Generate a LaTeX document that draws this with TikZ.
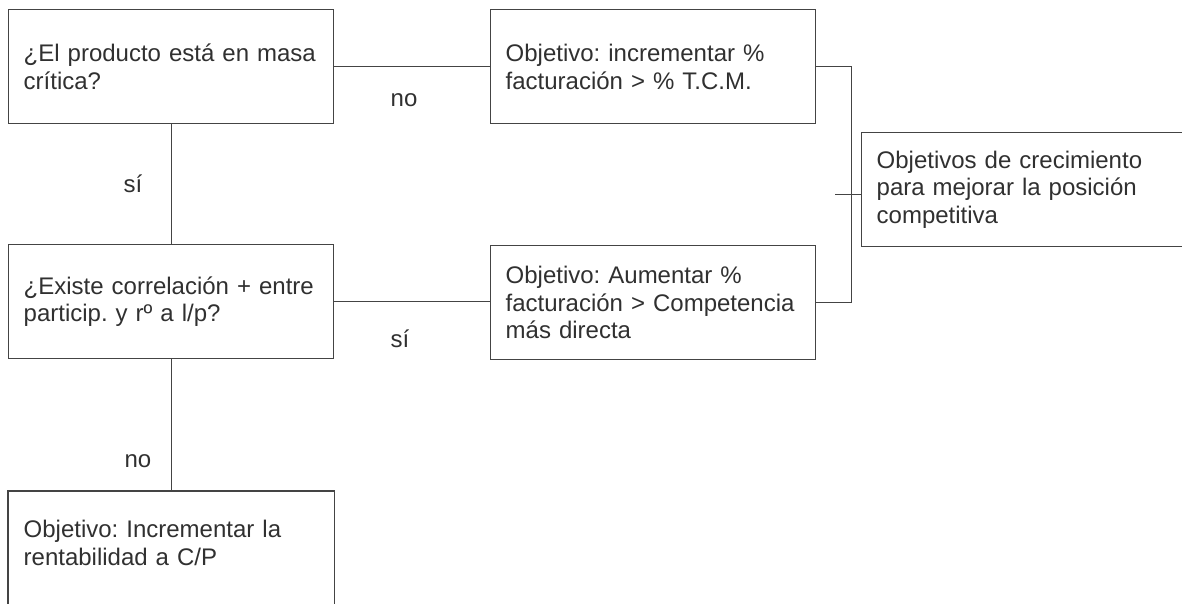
\documentclass[tikz,border=0pt]{standalone}
\usepackage{fontspec}
\setmainfont{Liberation Sans}
\usepackage{xcolor}
\usetikzlibrary{calc}
\definecolor{lineGray}{HTML}{444444}
\definecolor{txtGray}{HTML}{303030}
\frenchspacing

\begin{document}
\begin{tikzpicture}[x=1pt,y=-1pt,font={\fontsize{24}{27.6}\selectfont},
  box/.style={draw=lineGray,line width=1.4pt,anchor=north west,align=left,
    text width=295pt,inner xsep=15pt,inner ysep=0pt,minimum height=114pt,text=txtGray},
  lbl/.style={anchor=base,text=txtGray},
  conn/.style={lineGray,line width=1.4pt}]
\useasboundingbox (0,0) rectangle (1182,604);
% --- left column: questions ---
\node[box] (masa) at (8,9) {¿El producto está en masa\\crítica?};
\node[box] (correl) at (8,244) {¿Existe correlación + entre\\particip. y rº a l/p?};
\node[box,draw=none,minimum height=102pt] (rentab) at (8,491)
  {Objetivo: Incrementar la\\rentabilidad a C/P};
\draw[conn] (rentab.north west) rectangle ($(rentab.south east)+(0,30)$);
% --- middle column: objectives ---
\node[box] (tcm) at (490,9) {Objetivo: incrementar \%\\facturación > \% T.C.M.};
\node[box] (compet) at (490,245) {Objetivo: Aumentar \%\\facturación > Competencia\\más directa};
% --- right: summary ---
\node[box,text width=300pt] (crec) at (861,132)
  {Objetivos de crecimiento\\para mejorar la posición\\competitiva};
% --- connectors ---
\draw[conn] (masa.east) -- (masa.east -| tcm.west);
\draw[conn] (correl.east) -- (correl.east -| compet.west);
\draw[conn] (masa.south) -- (correl.north);
\draw[conn] (correl.south) -- (rentab.north);
\draw[conn] (tcm.east) -- ++(35,0) coordinate (brk) |- (compet.east);
\draw[conn] ([yshift=-5pt]crec.west) -- ++(-26,0);
% --- labels ---
\node[lbl] (no1) at (404,107) {no};
\node[lbl] (si1) at (133,193) {sí};
\node[lbl] (si2) at (400,347) {sí};
\node[lbl] (no2) at (138,467) {no};
\end{tikzpicture}
\end{document}
